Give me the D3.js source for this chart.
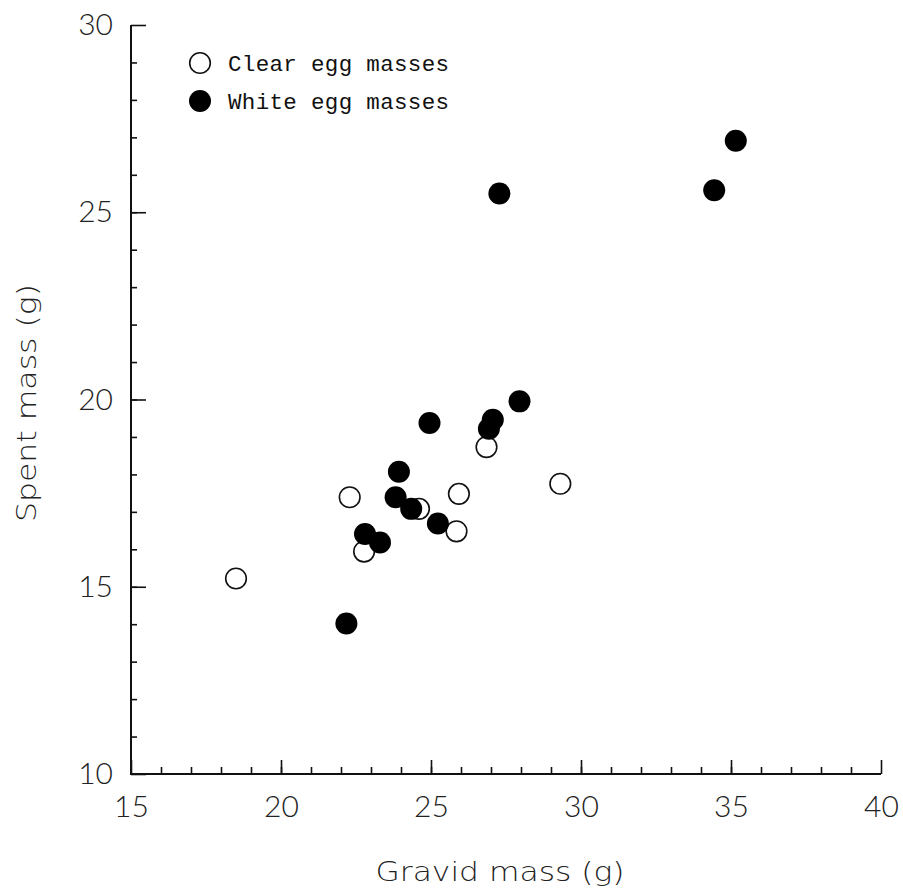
<!DOCTYPE html>
<html>
<head>
<meta charset="utf-8">
<script src="https://cdn.jsdelivr.net/npm/d3@7"></script>
<style>
  html, body { margin: 0; padding: 0; background: #fff; }
  svg { display: block; }
  .tick text { font-family: Lato, "DejaVu Sans", sans-serif; font-weight: 300; }
</style>
</head>
<body>
<script>
// ---- Data ----
const clearGravid = [18.50, 22.29, 22.77, 24.60, 25.93, 25.85, 26.85, 29.31];
const clearSpent  = [15.22, 17.39, 15.94, 17.08, 17.48, 16.48, 18.73, 17.75];

const whiteGravid = [22.18, 22.80, 23.30, 23.82, 23.93, 24.34, 25.23, 24.95, 26.93, 27.06, 27.95, 27.28, 34.44, 35.16];
const whiteSpent  = [14.02, 16.41, 16.18, 17.39, 18.07, 17.08, 16.69, 19.37, 19.22, 19.46, 19.95, 25.50, 25.59, 26.91];

const xMajorTicks = [15, 20, 25, 30, 35, 40];
const yMajorTicks = [10, 15, 20, 25, 30];
const xMinorTicks = d3.range(16, 40);
const yMinorTicks = d3.range(11, 30);

const legendLabels = ["Clear egg masses", "White egg masses"];
const xTitle = "Gravid mass (g)";
const yTitle = "Spent mass (g)";

// ---- Layout ----
const W = 903, H = 893;
const svg = d3.select("body").append("svg").attr("width", W).attr("height", H);

const x = d3.scaleLinear().domain([15, 40]).range([131, 881]);
const y = d3.scaleLinear().domain([10, 30]).range([774, 25]);

const tickFont = 30;
const titleFont = '"DejaVu Sans", Lato, sans-serif';

// X axis: minor ticks then major ticks (inward)
const gx = svg.append("g").attr("transform", `translate(0,${y(10)})`);
gx.append("g")
  .call(d3.axisBottom(x).tickValues(xMinorTicks).tickSizeInner(-7).tickSizeOuter(0).tickFormat(""))
  .call(g => g.select(".domain").remove());
gx.append("g")
  .call(d3.axisBottom(x).tickValues(xMajorTicks).tickSizeInner(-14).tickSizeOuter(0).tickPadding(28).tickFormat(d3.format("d")))
  .call(g => g.select(".domain").remove())
  .call(g => g.selectAll(".tick text").attr("font-size", tickFont).attr("fill", "#222").attr("dy", "0.5em"));
gx.selectAll("line").attr("stroke", "#111").attr("stroke-width", 1.6);

// Y axis
const gy = svg.append("g").attr("transform", `translate(${x(15)},0)`);
gy.append("g")
  .call(d3.axisLeft(y).tickValues(yMinorTicks).tickSizeInner(-6).tickSizeOuter(0).tickFormat(""))
  .call(g => g.select(".domain").remove());
gy.append("g")
  .call(d3.axisLeft(y).tickValues(yMajorTicks).tickSizeInner(-15).tickSizeOuter(0).tickPadding(18).tickFormat(d3.format("d")))
  .call(g => g.select(".domain").remove())
  .call(g => g.selectAll(".tick text").attr("font-size", tickFont).attr("fill", "#222"));
gy.selectAll("line").attr("stroke", "#111").attr("stroke-width", 1.6);

// Axis lines (L shape)
svg.append("path")
  .attr("d", d3.line()([[x(15), y(30)], [x(15), y(10)], [x(40), y(10)]]))
  .attr("fill", "none").attr("stroke", "#111").attr("stroke-width", 2);

// Axis titles
svg.append("text")
  .attr("x", 500).attr("y", 881)
  .attr("text-anchor", "middle")
  .attr("font-family", titleFont).attr("font-weight", 200)
  .attr("font-size", 27).attr("fill", "#222")
  .attr("textLength", 249).attr("lengthAdjust", "spacingAndGlyphs")
  .text(xTitle);

svg.append("text")
  .attr("transform", `translate(36,403) rotate(-90)`)
  .attr("text-anchor", "middle")
  .attr("font-family", titleFont).attr("font-weight", 200)
  .attr("font-size", 27).attr("fill", "#222")
  .attr("textLength", 238).attr("lengthAdjust", "spacingAndGlyphs")
  .text(yTitle);

// Points: clear (open) first, then white (filled) on top
const clearData = clearGravid.map((g, i) => ({ g, s: clearSpent[i] }));
const whiteData = whiteGravid.map((g, i) => ({ g, s: whiteSpent[i] }));

svg.append("g").selectAll("circle").data(clearData).join("circle")
  .attr("cx", d => x(d.g)).attr("cy", d => y(d.s)).attr("r", 10.3)
  .attr("fill", "#fff").attr("stroke", "#111").attr("stroke-width", 1.6);

svg.append("g").selectAll("circle").data(whiteData).join("circle")
  .attr("cx", d => x(d.g)).attr("cy", d => y(d.s)).attr("r", 11)
  .attr("fill", "#000");

// Legend
const leg = svg.append("g");
const legY = [63, 101];
leg.append("circle").attr("cx", 200).attr("cy", legY[0]).attr("r", 10.3)
  .attr("fill", "#fff").attr("stroke", "#111").attr("stroke-width", 1.6);
leg.append("circle").attr("cx", 200).attr("cy", legY[1]).attr("r", 11).attr("fill", "#000");
legendLabels.forEach((t, i) => {
  leg.append("text")
    .attr("x", 228).attr("y", legY[i] + 8)
    .attr("font-family", '"Liberation Mono", "Courier New", monospace')
    .attr("font-size", 22.5).attr("fill", "#111")
    .attr("textLength", 221).attr("lengthAdjust", "spacing")
    .text(t);
});
</script>
</body>
</html>
